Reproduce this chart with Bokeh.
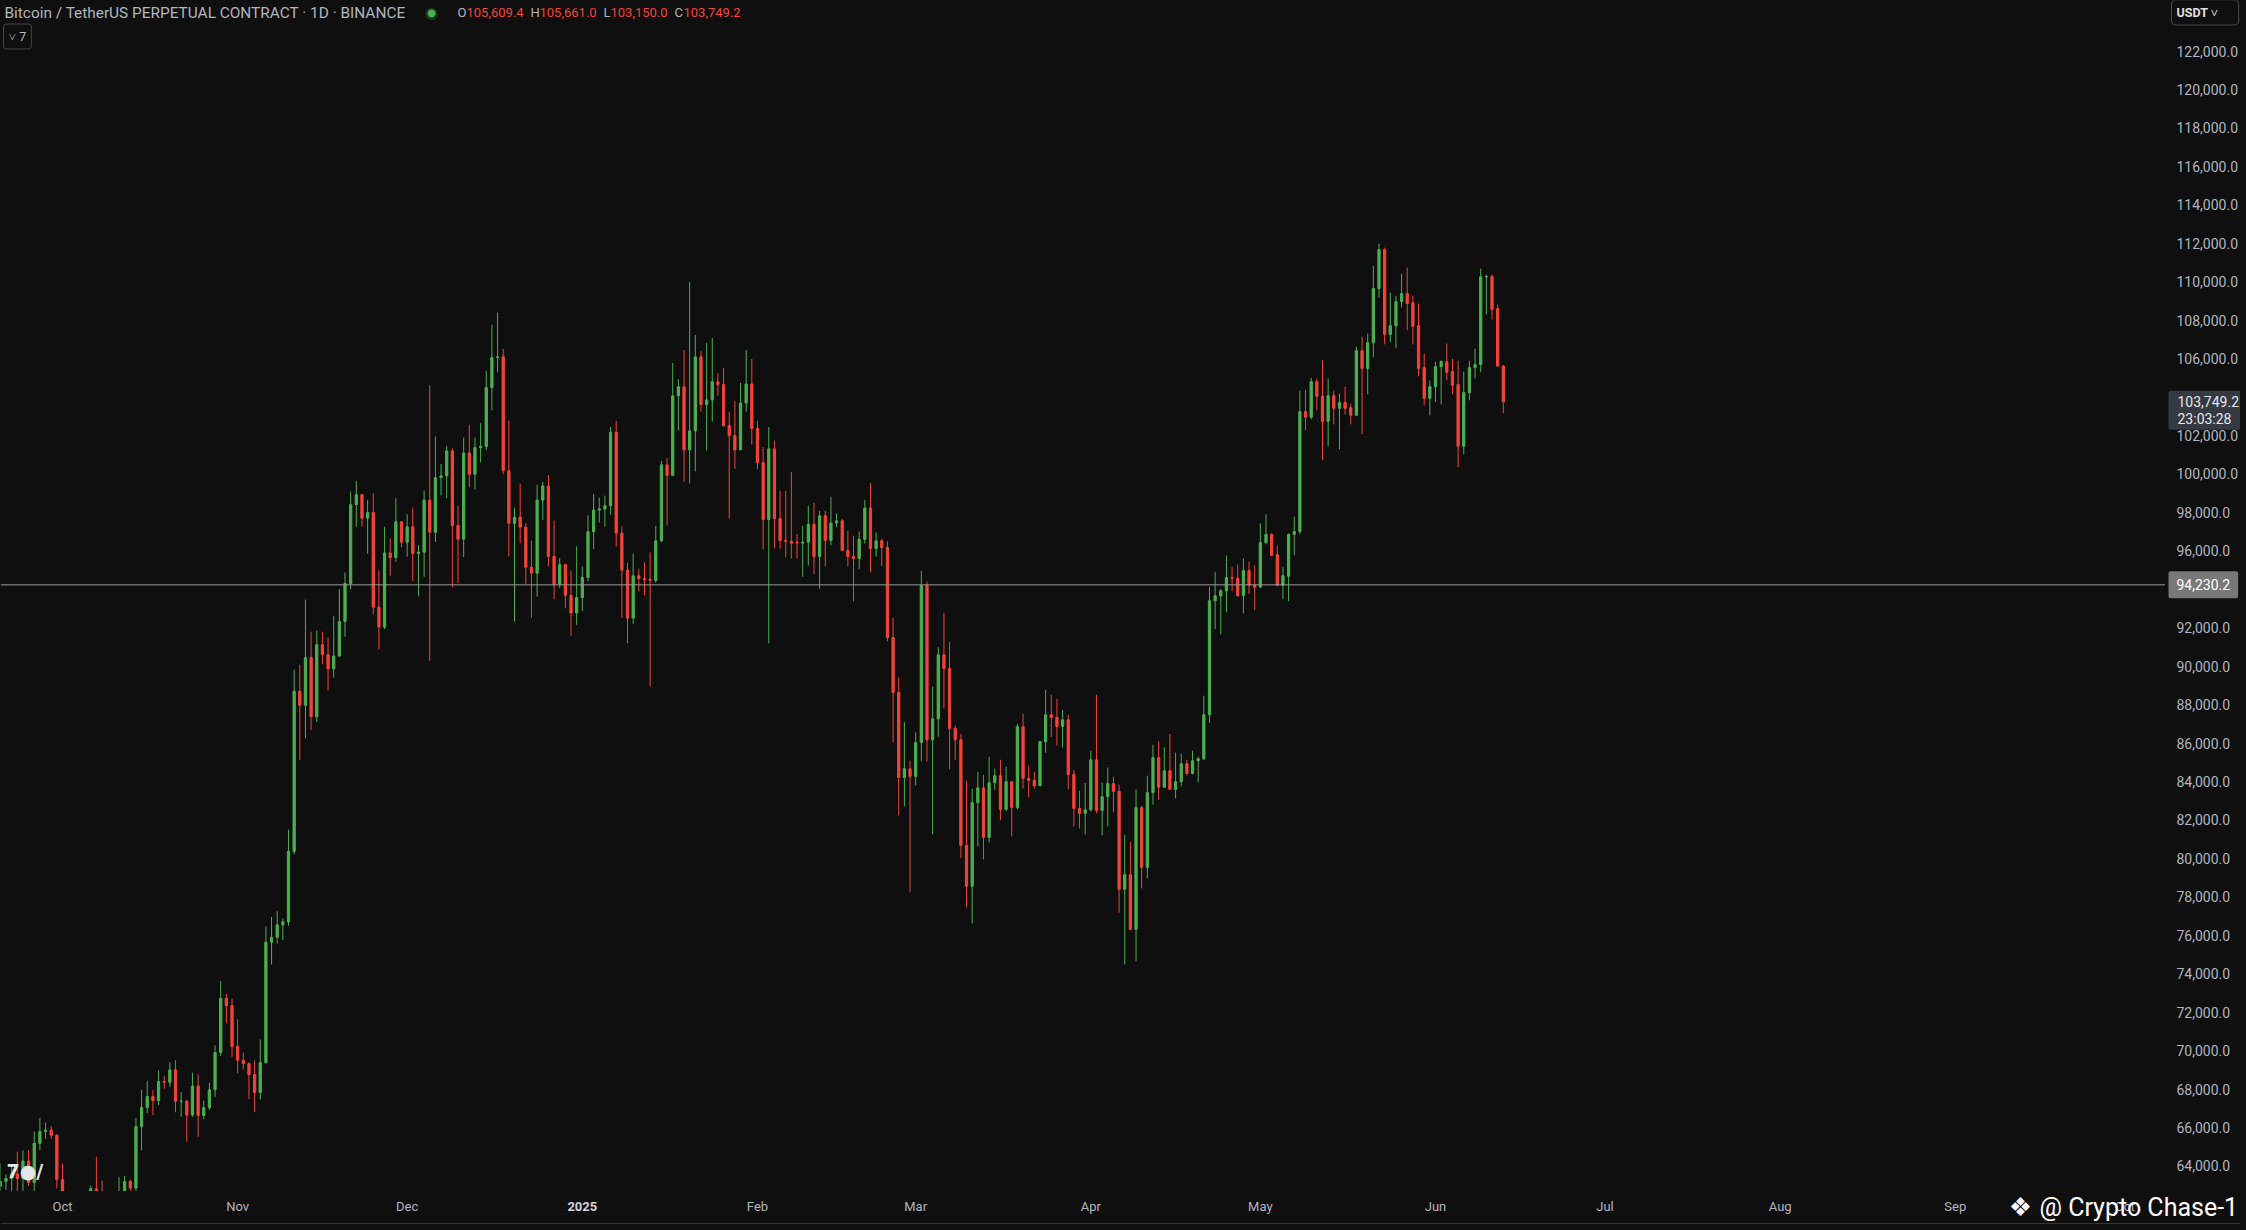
import pandas as pd
from bokeh.plotting import figure
from bokeh.layouts import row, column
from bokeh.models import Range1d, Span, Label, CustomJS, ColumnDataSource
from bokeh.core.properties import value
from bokeh.io import curdoc
from bokeh.embed import file_html
from bokeh.resources import INLINE

# ---------------- data (BTCUSDT perpetual, daily, 2024-09-20 .. 2025-06-13) ----------------
first_day = "2024-09-20"

opens = [
    62940, 63200, 63350, 63580, 63340, 64260, 63140, 65180, 65790, 65870, 65600,
    63300, 60800, 60650, 60750, 62080, 62060, 62820, 62220, 62130, 60580, 60270, 62450, 63190, 62850, 66050, 67040,
    67610, 67400, 68400, 68360, 69000, 67370, 67380, 66650, 68160, 66630, 67030, 67970, 69900, 72720, 72340,
    70220, 69500, 69330, 68760, 67820, 69380, 75640, 75900, 76540, 76700, 80370, 88700, 87960, 90450, 87370,
    91120, 90600, 89860, 90530, 92330, 94300, 98400, 98920, 97700, 97990, 93070, 92030, 95890, 95650, 97510,
    96450, 97250, 95860, 95930, 98640, 96970, 99810, 99900, 101200, 97320, 96600, 101090, 99980, 101370, 101430,
    104490, 106050, 106090, 100180, 97430, 97750, 97230, 95150, 94840, 98640, 99370, 95710, 94260, 95280, 93680, 92770,
    93570, 94610, 96990, 98120, 98180, 98350, 102170, 96920, 95000, 92500, 94700, 94560, 94520, 94460, 96520,
    100470, 99920, 104060, 104530, 101250, 102240, 106090, 103610, 103850, 104790, 104650, 102510, 101990, 101250,
    103690, 104680,
    102360, 100590, 97630, 101300, 97680, 96540, 96500, 96450, 96400, 96450, 97380, 95700, 97820, 96540, 97450,
    97560, 96020, 95700, 95600, 96600, 98230, 96120, 96520, 96170, 91490, 88630, 84210, 84660,
    84270, 86020, 94200, 86170, 87260, 90590, 89880, 86760, 86170, 80680, 78550, 82900, 83670, 81090, 83940,
    84300, 82550, 83990, 82650, 86850, 84160, 84060, 83780, 86070, 87470, 87330, 86860, 87210, 84370, 82600, 82340,
    82530, 85130, 82500, 83210, 83890, 83490, 78390, 79150, 76310, 82640, 79530, 83420, 85240, 83700, 84560,
    83590, 83990, 84920, 84420, 85080, 85180, 87470, 93400, 93660, 93920, 94610, 94575, 93670, 94970, 94210,
    94110, 96430, 96850, 95800, 94210, 94680, 96850, 97000, 103240, 102950, 104800, 104040, 102740, 104070, 103415,
    103710, 103450, 103050, 106410, 105490, 106830, 109640, 111670, 107260, 107710, 108960, 109380, 108910, 107710,
    105530, 103930,
    104540, 105580, 105840, 105320, 104650, 101440, 104230, 105530, 105690, 110250, 110260, 108600, 105609.4,
]
highs = [
    64130, 63560, 64000, 64750, 64810, 64820, 65800, 66500, 66260, 66080, 65630,
    64130, 62390, 61470, 62480, 62370, 62980, 64480, 63240, 62530, 61320, 63420, 63480, 63290, 66500, 67970,
    68420, 67940, 68970, 68690, 69400, 69500, 67840, 67450, 68850, 68780, 67400, 68330, 70270, 73620, 72960, 72700,
    71630, 69910, 69390, 69480, 70580, 76460, 76950, 77250, 76880, 81500, 89820, 90080, 93460, 91790, 91850,
    91790, 91500, 92600, 94000, 94880, 99080, 99640, 98960, 98650, 98990, 94980, 97250, 96640, 98730, 97510,
    97900, 98250, 96300, 99130, 104620, 101950, 100520, 101470, 101320, 98350, 101890, 102560, 101890, 102640,
    105360, 107760, 108390, 106500, 102770, 98250, 99500, 97440, 96530, 99440, 99590, 99940, 97570, 95620, 95330,
    94990, 96240,
    95170, 97850, 98970, 98770, 98870, 102440, 102760, 97270, 95380, 95850, 95050, 95400, 95930, 97300, 100680,
    100830, 105770, 104930, 106450, 109980, 107230, 106400, 106810, 107070, 105250, 105500, 103230, 103800, 104730,
    106450, 105980,
    102760, 101400, 102440, 101720, 99120, 99120, 100110, 96870, 97300, 98340, 98500, 98080, 98080, 98810, 97950,
    97660, 97040, 96780, 97000, 98650, 99530, 96960, 96630, 96490, 92515, 89400, 87090, 85080,
    86560, 94960, 94400, 88930, 90990, 92775, 91270, 86900, 86480, 84040, 83620, 84500, 84350, 85290, 84670,
    85130, 84770, 83990, 87000, 87530, 84820, 84500, 86120, 88770, 88510, 88300, 87730, 87470, 84610, 83520, 83940,
    85600, 88510, 83940, 84720, 84250, 83840, 81230, 80870, 83590, 82740, 84300, 85910, 86100, 85770, 86480,
    85500, 85450, 85130, 85600, 85290, 88460, 94130, 94910, 94000, 95760, 95170, 95280, 95600, 95440, 95250,
    97430, 97900, 96920, 96270, 95170, 96910, 97770, 104330, 104380, 105000, 104960, 105910, 104960, 104330, 104180,
    104540, 103650, 106620, 107140, 107300, 110830, 111980, 111770, 109430, 109270, 110420, 110730, 109270, 108860,
    106260, 104860,
    105840, 105900, 106780, 105990, 105890, 105320, 105890, 106520, 110680, 110370, 110370, 108800, 105661.0,
]
lows = [
    62350, 62760, 62360, 62600, 62700, 62960, 62680, 64820, 65420, 65420, 62850,
    60160, 59830, 59900, 60460, 61680, 61800, 62130, 61830, 60300, 58900, 60090, 62330, 62050, 62460, 64800,
    66750, 66650, 67170, 68020, 68100, 66800, 66570, 65260, 66560, 65520, 66430, 66930, 67600, 69730, 71440, 69680,
    68820, 69020, 67480, 66800, 67460, 69320, 74480, 75570, 75750, 76500, 80220, 85120, 86240, 86670, 87100,
    90100, 88750, 89400, 90480, 91530, 94010, 97250, 97250, 95850, 92700, 90870, 91930, 94720, 95430, 96180,
    95700, 94420, 93630, 94650, 90280, 96450, 98880, 98740, 94110, 94320, 95670, 99310, 99200, 100590,
    101230, 103300, 105290, 99980, 95710, 92330, 96400, 94280, 92530, 93620, 97600, 95190, 93480, 94070, 93010,
    91580, 92150,
    92870, 94420, 96090, 97470, 97260, 97880, 96220, 92510, 91200, 92200, 93900, 93680, 88950, 94350, 96440,
    97320, 99920, 102250, 99600, 99500, 100130, 103240, 101220, 102720, 104070, 102460, 97680, 100260, 101250,
    103240, 101530,
    100250, 96080, 91180, 96120, 96120, 95650, 95600, 95600, 94660, 95240, 94800, 94040, 95190, 96290, 97240,
    96020, 95190, 93370, 95050, 96380, 94870, 95700, 95210, 91300, 86030, 82240, 82710, 78235,
    83800, 85050, 85050, 81250, 86340, 87800, 84630, 85130, 80010, 77455, 76620, 80630, 79950, 80830, 83570,
    82000, 82450, 81150, 82550, 83640, 83180, 83640, 83780, 85500, 86310, 85880, 85770, 83590, 81670, 81560, 81250,
    82440, 82350, 81200, 81660, 82400, 77180, 74490, 76260, 74650, 78440, 78960, 82800, 83040, 83700, 83590,
    83120, 83740, 84320, 84370, 83950, 85130, 87050, 91920, 91650, 92800, 93900, 93600, 92750, 93760, 92920,
    94110, 96340, 95720, 94160, 93480, 93380, 95770, 96860, 102270, 102840, 103310, 100710, 101440, 102580, 101280,
    103100, 102580, 103050, 102060, 104140, 106070, 109170, 106740, 106850, 106530, 108650, 107470, 106740, 105080,
    103570, 103050,
    103730, 103620, 104870, 104140, 100350, 101020, 103830, 104970, 105290, 108300, 108040, 105600, 103150.0,
]
closes = [
    63200, 63350, 63580, 63340, 64260, 63140, 65180, 65790, 65870, 65600, 63300,
    60800, 60650, 60750, 62080, 62060, 62820, 62220, 62130, 60580, 60270, 62450, 63190, 62850, 66050, 67040,
    67610, 67400, 68400, 68360, 69000, 67370, 67380, 66650, 68160, 66630, 67030, 67970, 69900, 72720, 72340, 70220,
    69500, 69330, 68760, 67820, 69380, 75640, 75900, 76540, 76700, 80370, 88700, 87960, 90450, 87370, 91120,
    90600, 89860, 90530, 92330, 94300, 98400, 98920, 97700, 97990, 93070, 92030, 95890, 95650, 97510, 96450,
    97250, 95860, 95930, 98640, 96970, 99810, 99900, 101200, 97320, 96600, 101090, 99980, 101370, 101430,
    104490, 106050, 106090, 100180, 97430, 97750, 97230, 95150, 94840, 98640, 99370, 95710, 94260, 95280, 93680,
    92770, 93570,
    94610, 96990, 98120, 98180, 98350, 102170, 96920, 95000, 92500, 94700, 94560, 94490, 94460, 96520, 100470,
    99920, 104060, 104530, 101250, 102240, 106090, 103610, 103850, 104790, 104650, 102510, 101990, 101250, 103690,
    104680, 102360,
    100590, 97630, 101300, 97680, 96540, 96500, 96400, 96400, 96450, 97380, 95700, 97820, 96540, 97450, 97560,
    96020, 95700, 95600, 96600, 98230, 96120, 96520, 96170, 91490, 88630, 84210, 84660, 84270,
    86020, 94200, 86170, 87260, 90590, 89880, 86760, 86170, 80680, 78550, 82900, 83670, 81090, 83940, 84300,
    82550, 83990, 82650, 86850, 84160, 84060, 83780, 86070, 87470, 87330, 86860, 87210, 84370, 82600, 82340, 82530,
    85130, 82500, 83210, 83890, 83490, 78390, 79150, 76310, 82640, 79530, 83420, 85240, 83700, 84560, 83590,
    83990, 84920, 84420, 85080, 85180, 87470, 93400, 93660, 93920, 94610, 94575, 93670, 94970, 94210, 94110,
    96430, 96850, 95770, 94210, 94710, 96850, 97000, 103240, 102950, 104800, 104040, 102740, 104070, 103415, 103710,
    103415, 103050, 106410, 105490, 106830, 109640, 111670, 107260, 107710, 108960, 109380, 108870, 107680, 105490,
    103930, 104540,
    105580, 105840, 105290, 104610, 101440, 104230, 105530, 105690, 110260, 110270, 108560, 105610, 103749.2,
]

price_ticks = list(range(64000, 124000, 2000))
month_labels = ["Oct", "Nov", "Dec", "2025", "Feb", "Mar", "Apr", "May", "Jun", "Jul", "Aug", "Sep", "Oct"]
hline_price = 94230.2
countdown = "23:03:28"
title_text = "Bitcoin / TetherUS PERPETUAL CONTRACT \u00b7 1D \u00b7 BINANCE"
watermark = "@ Crypto Chase-1"

# ---------------- layout / style ----------------
BG = "#0f0f0f"
UP = "#4caf50"
DOWN = "#f44336"
TXT = "#b2b5be"
FONT = "Roboto"

TOTAL_W, TOTAL_H = 2240, 1224
FRAME_W, FRAME_H = 2165, 1191
SIDE_W = TOTAL_W - FRAME_W
BOTTOM_H = TOTAL_H - FRAME_H
X0, X1 = -10.973, 372.2          # days from 2024-10-01
Y0, Y1 = 62673.0, 124627.0
PPX = (Y1 - Y0) / FRAME_H         # price per pixel
PXD = FRAME_W / (X1 - X0)         # pixels per day


def py(fy):
    return Y1 - fy * PPX


origin = pd.Timestamp("2024-10-01")
dates = pd.date_range(first_day, periods=len(closes), freq="D")
xs = list((dates - origin).days)
colors = [UP if c >= o else DOWN for o, c in zip(opens, closes)]
src = ColumnDataSource(dict(
    x=xs, high=highs, low=lows,
    top=[max(o, c) for o, c in zip(opens, closes)],
    bottom=[min(o, c) for o, c in zip(opens, closes)],
    color=colors,
))

month_starts = pd.date_range("2024-10-01", "2025-10-01", freq="MS")
month_ticks = [int((d - origin).days) for d in month_starts]


def make_fig(w, h, xr, yr):
    f = figure(width=w, height=h, x_range=xr, y_range=yr, x_axis_location=None, y_axis_location=None,
               toolbar_location=None, output_backend="svg", min_border=0,
               min_border_left=0, min_border_right=0, min_border_top=0, min_border_bottom=0,
               background_fill_color=BG, border_fill_color=BG, outline_line_color=None)
    f.grid.visible = False
    return f


# ---------------- main chart ----------------
yr = Range1d(Y0, Y1)
p = make_fig(FRAME_W, FRAME_H, Range1d(X0, X1), yr)

p.add_layout(Span(location=hline_price, dimension="width", line_color="#9a9a9a", line_width=1))
p.segment(x0="x", y0="low", x1="x", y1="high", line_color="color", line_width=1, source=src)
p.vbar(x="x", width=0.4, top="top", bottom="bottom", fill_color="color", line_color="color",
       line_width=1, source=src)

# legend (top-left)
p.add_layout(Label(x=4, y=py(12), x_units="screen", text=title_text, text_align="left",
                   text_baseline="middle", text_font=FONT, text_font_size="15.4px", text_color=TXT))
p.add_layout(Label(x=431, y=py(12), x_units="screen", text="\u25cf", text_align="center",
                   text_baseline="middle", text_font="DejaVu Sans", text_font_size="16px",
                   text_color=UP, text_alpha=0.25))
p.add_layout(Label(x=431, y=py(12), x_units="screen", text="\u25cf", text_align="center",
                   text_baseline="middle", text_font="DejaVu Sans", text_font_size="10px",
                   text_color=UP))
ohlc_x = [(457, 466), (530, 539), (603, 610), (674, 683)]
for (lx, vx), name, val in zip(ohlc_x, ["O", "H", "L", "C"],
                               [opens[-1], highs[-1], lows[-1], closes[-1]]):
    p.add_layout(Label(x=lx, y=py(12), x_units="screen", text=name, text_align="left",
                       text_baseline="middle", text_font=FONT, text_font_size="13px", text_color=TXT))
    p.add_layout(Label(x=vx, y=py(12), x_units="screen", text=f"{val:,.1f}", text_align="left",
                       text_baseline="middle", text_font=FONT, text_font_size="13px",
                       text_color=DOWN))
p.add_layout(Label(x=3, y=py(36), x_units="screen", text="\u02c5 7", text_align="left",
                   text_baseline="middle", text_font=FONT, text_font_size="13px", text_color=TXT,
                   border_line_color="#444444", border_radius=3, padding=5))
# TradingView logo
p.add_layout(Label(x=6, y=py(1170), x_units="screen", text="7\u25cf/", text_align="left",
                   text_baseline="middle", text_font="DejaVu Sans", text_font_size="19px",
                   text_font_style="bold", text_color="#e6e6e6"))

# ---------------- price scale (right) ----------------
side = make_fig(SIDE_W, FRAME_H, Range1d(0, SIDE_W), yr)
side.text(x=[11] * len(price_ticks), y=price_ticks, text=[f"{t:,.1f}" for t in price_ticks],
          text_align="left", text_baseline="middle", text_font=value(FONT), text_font_size="14px",
          text_color=TXT)
side.add_layout(Label(x=3, y=hline_price, text=f"{hline_price:,.1f}", text_align="left",
                      text_baseline="middle", text_font=FONT, text_font_size="14px",
                      text_color="#ffffff", background_fill_color="#787878", padding=8,
                      border_radius=2))
last_c = closes[-1]
# padding order here: (left, right, top, bottom)
side.add_layout(Label(x=3, y=last_c, y_offset=11, text=f"{last_c:,.1f}\n{countdown}",
                      text_align="left", text_baseline="top", text_font=FONT, text_font_size="14px",
                      text_color="#e8e8e8", background_fill_color="#353942", padding=(9, 8, 3, 3),
                      border_radius=2, text_line_height=1.05))
side.add_layout(Label(x=6, y=py(12), text="USDT      \u02c5", text_align="left",
                      text_baseline="middle", text_font=FONT, text_font_size="12.5px",
                      text_font_style="bold", text_color="#e0e0e0", border_line_color="#4a4a4a",
                      border_radius=4, padding=5))

# ---------------- time scale (bottom) ----------------
bottom = make_fig(TOTAL_W, BOTTOM_H, Range1d(X0, X0 + TOTAL_W / PXD), Range1d(0, BOTTOM_H))
reg = [(t, lab) for t, lab in zip(month_ticks, month_labels) if not lab.isdigit()]
yrs = [(t, lab) for t, lab in zip(month_ticks, month_labels) if lab.isdigit()]
bottom.text(x=[t for t, _ in reg], y=[BOTTOM_H - 15] * len(reg), text=[lab for _, lab in reg],
            text_align="center", text_baseline="middle", text_font=value(FONT),
            text_font_size="13px", text_color=TXT)
bottom.text(x=[t for t, _ in yrs], y=[BOTTOM_H - 15] * len(yrs), text=[lab for _, lab in yrs],
            text_align="center", text_baseline="middle", text_font=value(FONT),
            text_font_size="13px", text_font_style="bold", text_color="#d1d4dc")
bottom.add_layout(Span(location=1, dimension="width", line_color="#353535", line_width=1))
bottom.add_layout(Label(x=2020, y=BOTTOM_H - 15, x_units="screen", text="\u2756", text_align="center",
                        text_baseline="middle", text_font="DejaVu Sans", text_font_size="26px",
                        text_color="#ffffff"))
bottom.add_layout(Label(x=2039, y=BOTTOM_H - 16, x_units="screen", text=watermark, text_align="left",
                        text_baseline="middle", text_font=FONT, text_font_size="25px",
                        text_color="#ffffff"))

layout = column(row(p, side, spacing=0), bottom, spacing=0)

doc = curdoc()
doc.add_root(layout)
doc.js_on_event("document_ready", CustomJS(code="document.body.style.background='#0f0f0f';"))

open("out.html", "w").write(file_html(layout, INLINE))
